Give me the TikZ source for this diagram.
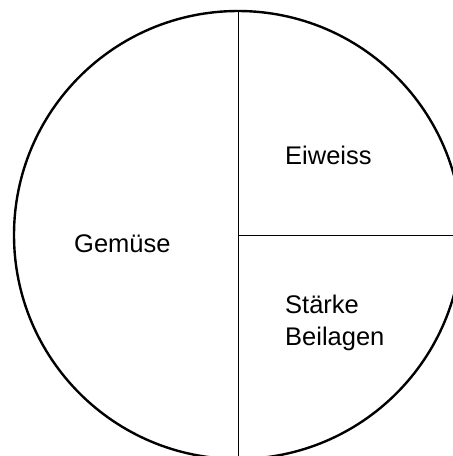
\documentclass[tikz,border=0pt]{standalone}
\usepackage{fontspec}
\setmainfont{Liberation Sans}
\usepackage{tikz}

\begin{document}
\begin{tikzpicture}[x=1pt,y=-1pt,
    plate/.style={line width=2.4pt},
    divider/.style={line width=1pt},
    label/.style={font=\fontsize{25.5}{32}\selectfont, inner sep=0pt, align=left}]
        \useasboundingbox (0,0) rectangle (453,456);
        \coordinate (mid) at (238,235);
        \coordinate (top) at (238,11);
        \coordinate (bottom) at (238,456);
        \coordinate (right) at (453,235);
        \draw[plate] (mid) circle (224);
        \draw[divider] (top) -- (bottom);
        \draw[divider] (mid) -- (right);
        \node[label, anchor=base west] (gemuese) at (74,252) {Gemüse};
        \node[label, anchor=base west] (eiweiss) at (285,164) {Eiweiss};
        \node[label, anchor=base west] (staerke) at (285,345) {Stärke\\Beilagen};
      \end{tikzpicture}
\end{document}
